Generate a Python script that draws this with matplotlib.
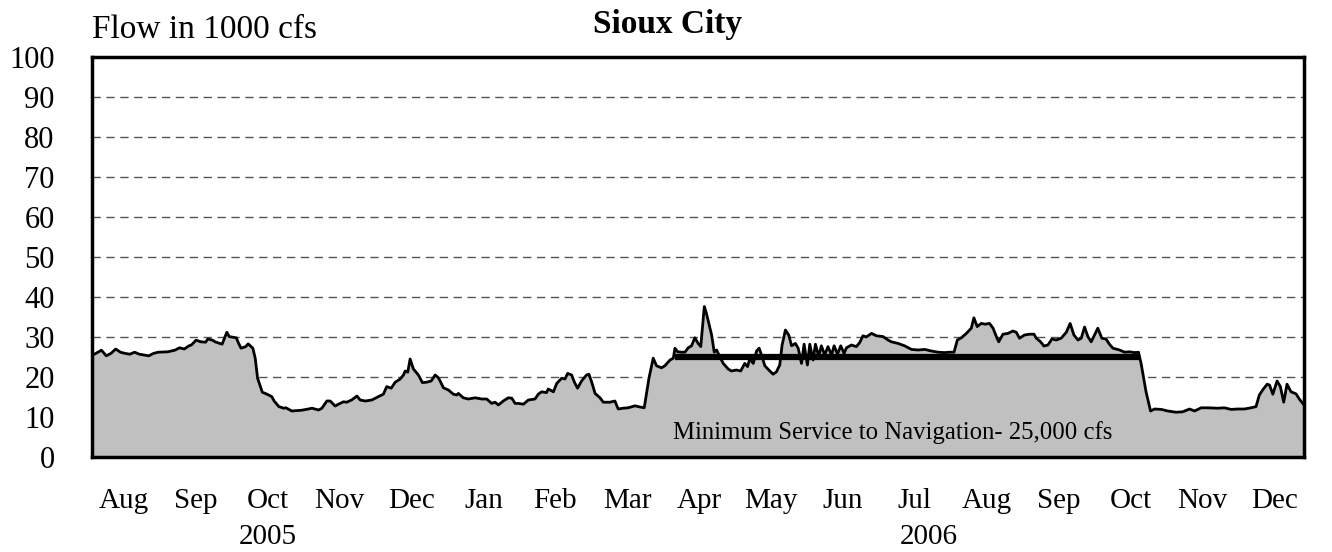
import matplotlib
matplotlib.use("Agg")
import matplotlib.pyplot as plt

# Sioux City flow (days since 1 Aug 2005, flow in 1000 cfs)
days = [0, 1, 4, 6, 8, 10, 12, 14, 16, 18, 20, 22, 24, 26, 28, 32, 35, 37, 39, 41,
        42, 44, 46, 48, 49, 51, 52, 55, 56, 57, 58, 61, 62, 63, 65, 66, 68, 69, 70, 72,
        74, 76, 77, 79, 81, 82, 84.5, 88.7, 91.5, 93, 95.8, 97.2, 99.3, 100.7, 102.8, 104.2,
        106.3, 107.7, 109.9, 112, 113.4, 115.5, 118.3, 121.1, 123.2, 124.6, 126.5, 128.2,
        130.3, 131.7, 132.4, 133.5, 134.5, 135.9, 138, 139.7, 141.5, 143.4, 145.1, 146.5,
        148.6, 150.7, 152.8, 154.2, 154.9, 157, 159.1, 162, 164.8, 166.9, 169, 170.4, 171.8,
        173.9, 176, 177.5, 178.9, 180.3, 182.4, 184.5, 187.3, 188.7, 190.1, 192.2, 192.9,
        195.1, 196.5, 198.6, 200, 201.1, 202.8, 203.9, 205.3, 207, 209.1, 210.1, 211.3,
        212.7, 214.8, 216.2, 219, 221.1, 222.5, 224.6, 226.7, 229.6, 231.7, 233.5, 235.5,
        237.3, 238.7, 240.8, 242.2, 244.4, 245.8, 246.5, 247.6, 249.3, 250.7, 252.1, 253.5,
        254.9, 256.3, 257.4, 258.9, 259.8, 260.8, 262, 263.1, 264.1, 265.1, 266.9, 269,
        270.4, 272.5, 274.3, 276, 277.2, 278.1, 279.6, 281, 282.1, 283.1, 284.5, 286.6, 288,
        289.4, 290.8, 291.8, 293.2, 294.6, 295.8, 297.4, 298.6, 300, 301.1, 302.5, 303.5,
        304.9, 305.9, 307.3, 308.4, 309.8, 311.2, 312.7, 313.8, 315.2, 316.6, 318, 319,
        321.1, 323.2, 324.6, 326, 327.4, 329.6, 331.7, 334.5, 336.6, 338, 340.8, 343.6,
        346.5, 349.3, 352.1, 354.9, 357.7, 360.5, 362.6, 364.5, 365.9, 367.6, 369.7, 371.8,
        372.9, 374.3, 376, 377.7, 379.5, 381, 382.4, 383.4, 385.2, 387.3, 389.4, 390.8,
        392.2, 394.3, 396.5, 398.3, 399.3, 401.1, 402.5, 404.2, 405.9, 407.7, 409.8, 412,
        413.6, 415.2, 416.9, 418.3, 419.7, 421.1, 422.5, 423.9, 425.3, 427, 428.8, 430.2,
        431.7, 434.5, 436.6, 438.7, 440.8, 442.5, 443.6, 445.7, 447.6, 449.3, 452.1, 454.9,
        458.4, 461.2, 464.1, 466.2, 469, 471.8, 476, 478.8, 481.7, 484.5, 487.3, 490.1,
        492.2, 493.6, 495, 496.9, 497.9, 499.3, 501.1, 502.5, 503.9, 505.3, 507, 509.1,
        510.5, 512.5]
flow = [25.7, 25.7, 26.7, 25.3, 25.9, 27.0, 26.2, 25.9, 25.7, 26.2, 25.7, 25.5, 25.3, 25.9,
        26.2, 26.3, 26.7, 27.3, 27.0, 27.8, 28.0, 29.2, 28.8, 28.7, 29.5, 29.2, 28.8, 28.2,
        29.7, 31.2, 30.1, 29.8, 28.4, 27.2, 27.6, 28.3, 27.2, 24.7, 19.7, 16.2, 15.7, 15.1,
        14.0, 12.6, 12.2, 12.3, 11.5, 11.7, 12.0, 12.2, 11.75, 12.2, 14.0, 14.0, 12.75, 13.2,
        13.8, 13.7, 14.3, 15.25, 14.25, 14.0, 14.25, 15.1, 15.7, 17.6, 17.2, 18.7, 19.5, 20.5,
        21.5, 21.2, 24.5, 22.0, 20.5, 18.6, 18.7, 19.0, 20.5, 19.8, 17.3, 16.75, 15.7, 15.5,
        15.9, 14.8, 14.5, 14.8, 14.5, 14.5, 13.4, 13.7, 13.0, 14.0, 14.8, 14.7, 13.4, 13.4,
        13.2, 14.25, 14.5, 15.7, 16.3, 16.1, 17.0, 16.3, 18.4, 19.7, 19.5, 20.9, 20.5, 18.8,
        17.2, 19.0, 20.5, 20.7, 18.7, 15.9, 14.8, 13.7, 13.7, 14.0, 12.0, 12.2, 12.3, 12.8,
        12.5, 12.3, 19.7, 24.7, 22.8, 22.3, 22.8, 24.25, 24.7, 27.2, 26.3, 26.2, 26.2, 27.3,
        27.8, 29.8, 28.4, 27.6, 37.6, 35.9, 33.4, 30.5, 26.2, 26.75, 25.5, 23.4, 22.0, 21.5,
        21.75, 21.5, 23.4, 22.6, 24.5, 23.4, 26.5, 27.2, 25.5, 22.8, 21.5, 20.7, 21.3, 23.0,
        28.0, 31.75, 30.5, 27.8, 28.4, 27.2, 23.4, 28.2, 23.0, 28.2, 24.25, 28.2, 25.1, 27.8,
        25.5, 27.6, 25.5, 27.8, 25.7, 27.8, 25.9, 27.3, 28.0, 27.6, 28.6, 30.3, 30.0, 30.9,
        30.3, 30.1, 29.25, 28.8, 28.4, 27.8, 26.9, 26.75, 26.9, 26.5, 26.2, 26.1, 26.2, 26.2,
        29.25, 29.8, 30.9, 32.2, 34.8, 32.6, 33.4, 33.2, 33.4, 32.2, 30.1, 28.8, 30.7, 30.9,
        31.5, 31.2, 29.7, 30.5, 30.7, 30.7, 29.7, 28.8, 27.75, 28.0, 29.5, 29.25, 29.7, 31.2,
        33.4, 30.5, 29.25, 29.7, 32.5, 30.1, 28.8, 30.5, 32.2, 29.7, 29.5, 28.2, 27.2, 26.75,
        26.2, 26.3, 26.1, 26.2, 23.4, 16.3, 11.5, 12.0, 11.9, 11.5, 11.2, 11.3, 12.0, 11.5,
        12.3, 12.3, 12.2, 12.3, 11.9, 12.0, 12.0, 12.3, 12.6, 15.5, 16.75, 18.2, 18.0, 15.7,
        19.0, 17.6, 13.7, 18.2, 16.3, 15.8, 14.5, 13.0]

min_service = 25
min_service_days = [246.3, 442.7]
months = ["Aug", "Sep", "Oct", "Nov", "Dec", "Jan", "Feb", "Mar", "Apr",
          "May", "Jun", "Jul", "Aug", "Sep", "Oct", "Nov", "Dec"]
years = ["2005", "2006"]

plt.rcParams['font.family'] = ['Liberation Serif', 'DejaVu Serif']

fig = plt.figure(figsize=(13.32, 5.52), dpi=100)
ax = fig.add_axes([0.0691, 0.1721, 0.9099, 0.7246])

ax.fill_between(days, flow, 0, color='#C0C0C0', zorder=2, linewidth=0)
ax.plot(days, flow, color='black', lw=2.0, zorder=3)
ax.plot(min_service_days, [min_service, min_service], color='black', lw=4.5,
        solid_capstyle='butt', zorder=4)

ax.set_xlim(0, 512.5)
ax.set_ylim(0, 100)
ax.set_yticks(range(0, 101, 10))
ax.tick_params(axis='y', length=0, pad=27, labelsize=22)
ax.set_xticks([13.5 + 30.4 * i for i in range(len(months))])
ax.set_xticklabels(months)
ax.tick_params(axis='x', length=0, pad=22, labelsize=21)

ax.set_axisbelow(True)
ax.yaxis.grid(True, color='#555555', lw=1, linestyle=(0, (6, 4)))
for s in ax.spines.values():
    s.set_linewidth(2.5)

trans = ax.get_xaxis_transform()
ax.text(74.4, -0.2, years[0], transform=trans, ha='center', va='center', fontsize=21)
ax.text(354, -0.2, years[1], transform=trans, ha='center', va='center', fontsize=21)

ax.text(338.4, 6, "Minimum Service to Navigation- 25,000 cfs", ha='center', va='center',
        fontsize=17.8, zorder=5)

fig.text(0.5015, 0.955, "Sioux City", ha='center', va='center', fontsize=24,
         fontweight='bold')
fig.text(0.069, 0.947, "Flow in 1000 cfs", ha='left', va='center', fontsize=24)

fig.savefig("out.png", dpi=100)
